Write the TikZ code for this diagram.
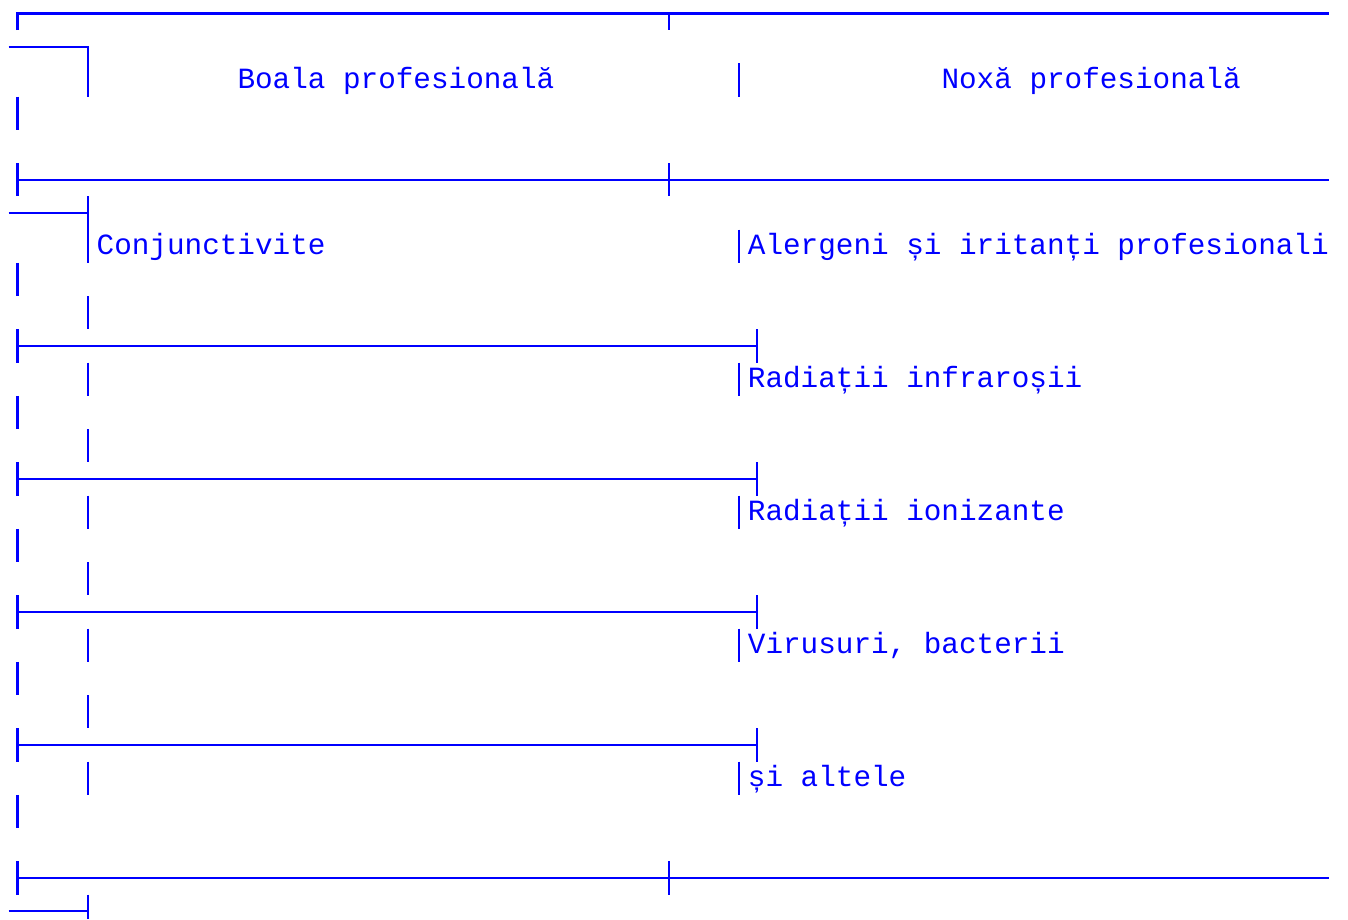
\documentclass[tikz,border=0pt]{standalone}
\usepackage{fontspec}
\setmonofont{Liberation Mono}
\definecolor{ink}{RGB}{0,0,255}
\newcommand\Cx[1]{17.5+17.6*#1}
\newcommand\Lx[1]{8.7+17.6*#1}
\newcommand\My[1]{13.5+33.25*#1}
\newcommand\Ty[1]{-3.1+33.25*#1}
\newcommand\Bt[1]{30.1+33.25*#1}
\newcommand\Rend{1328.7}
\tikzset{
  rule/.style={draw=ink, line width=2.3pt},
  txt/.style={anchor=base west, inner sep=0pt, outer sep=0pt, text=ink,
    font=\ttfamily\fontsize{29.33}{33.25}\selectfont},
}
\newcommand\vbar[2]{\draw[rule] ({\Cx{#1}},{\Ty{#2}}) -- ({\Cx{#1}},{\Bt{#2}});}
\newcommand\txtat[4]{\node[txt] (#1) at ({\Lx{#2}},{\My{#3}+8}) {#4};}
\begin{document}
\begin{tikzpicture}[x=1pt,y=-1pt]
\useasboundingbox (0,0) rectangle (1348,919);
% row 0: top rule with corner and tee
\draw[rule] ({\Cx{0}},{\Bt{0}}) -- ({\Cx{0}},{\My{0}}) -- ({\Rend},{\My{0}});
\draw[rule] ({\Cx{37}},{\My{0}}) -- ({\Cx{37}},{\Bt{0}});
% row 1: wrapped corner
\draw[rule] ({\Lx{0}},{\My{1}}) -- ({\Cx{4}},{\My{1}}) -- ({\Cx{4}},{\Bt{1}});
% row 2: header
\vbar{4}{2}
\vbar{41}{2}
\txtat{h1}{13}{2}{Boala profesională}
\txtat{h2}{53}{2}{Noxă profesională}
% row 3
\vbar{0}{3}
% row 5: cross rule
\vbar{0}{5}
\draw[rule] ({\Cx{0}},{\My{5}}) -- ({\Rend},{\My{5}});
\vbar{37}{5}
% row 6
\draw[rule] ({\Lx{0}},{\My{6}}) -- ({\Cx{4}},{\My{6}});
\vbar{4}{6}
% row 7
\vbar{4}{7}
\vbar{41}{7}
\txtat{d1}{5}{7}{Conjunctivite}
\txtat{n1}{42}{7}{Alergeni și iritanți profesionali}
% row 8, 9
\vbar{0}{8}
\vbar{4}{9}
% row 10
\vbar{0}{10}
\draw[rule] ({\Cx{0}},{\My{10}}) -- ({\Cx{42}},{\My{10}});
\vbar{42}{10}
% row 11
\vbar{4}{11}
\vbar{41}{11}
\txtat{n2}{42}{11}{Radiații infraroșii}
% row 12, 13
\vbar{0}{12}
\vbar{4}{13}
% row 14
\vbar{0}{14}
\draw[rule] ({\Cx{0}},{\My{14}}) -- ({\Cx{42}},{\My{14}});
\vbar{42}{14}
% row 15
\vbar{4}{15}
\vbar{41}{15}
\txtat{n3}{42}{15}{Radiații ionizante}
% row 16, 17
\vbar{0}{16}
\vbar{4}{17}
% row 18
\vbar{0}{18}
\draw[rule] ({\Cx{0}},{\My{18}}) -- ({\Cx{42}},{\My{18}});
\vbar{42}{18}
% row 19
\vbar{4}{19}
\vbar{41}{19}
\txtat{n4}{42}{19}{Virusuri, bacterii}
% row 20, 21
\vbar{0}{20}
\vbar{4}{21}
% row 22
\vbar{0}{22}
\draw[rule] ({\Cx{0}},{\My{22}}) -- ({\Cx{42}},{\My{22}});
\vbar{42}{22}
% row 23
\vbar{4}{23}
\vbar{41}{23}
\txtat{n5}{42}{23}{și altele}
% row 24
\vbar{0}{24}
% row 26: bottom cross rule
\vbar{0}{26}
\draw[rule] ({\Cx{0}},{\My{26}}) -- ({\Rend},{\My{26}});
\vbar{37}{26}
% row 27: cut-off tee
\draw[rule] ({\Lx{0}},{\My{27}}) -- ({\Cx{4}},{\My{27}});
\draw[rule] ({\Cx{4}},{\Ty{27}}) -- ({\Cx{4}},919);
\end{tikzpicture}
\end{document}
